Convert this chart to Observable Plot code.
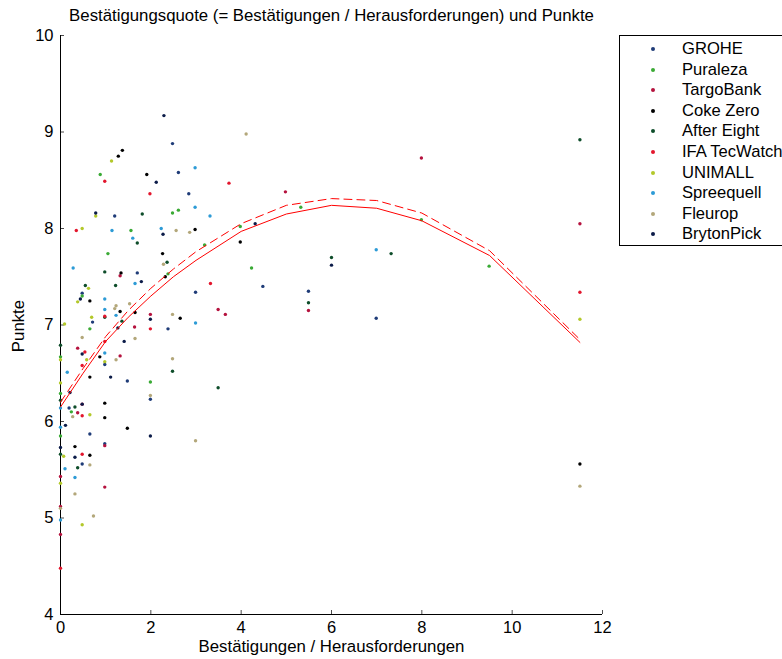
<!DOCTYPE html>
<html>
<head>
<meta charset="utf-8">
<script src="https://cdn.jsdelivr.net/npm/d3@7"></script>
<script src="https://cdn.jsdelivr.net/npm/@observablehq/plot@0.6"></script>
<style>
  html, body { margin: 0; padding: 0; background: #fff; overflow: hidden; }
  body { width: 782px; height: 659px; position: relative; font-family: "Liberation Sans", Arial, Helvetica, sans-serif; }
  #chart { position: absolute; left: 0; top: 0; }
  .title { position: absolute; top: 6px; left: 0; width: 663px; text-align: center; font-size: 16.8px; color: #000; white-space: nowrap; }
  .xlabel { position: absolute; top: 637px; left: 0; width: 663px; text-align: center; font-size: 16.8px; color: #000; white-space: nowrap; }
  .ylabel { position: absolute; left: 19px; top: 326px; font-size: 16.8px; color: #000; transform: translate(-50%, -50%) rotate(-90deg); white-space: nowrap; }
  .legend { position: absolute; left: 619px; top: 35px; width: 260px; height: 211px; border: 1px solid #000; box-sizing: border-box; background: #fff; }
  .legend .item { position: absolute; left: 0; height: 20px; font-size: 16.6px; line-height: 20px; white-space: nowrap; color: #000; }
  .legend .dot { position: absolute; left: 31px; top: 8px; width: 4px; height: 4px; border-radius: 50%; }
  .legend .lab { position: absolute; left: 62px; top: 0; }
</style>
</head>
<body>
<div id="chart"></div>
<div class="title">Bestätigungsquote (= Bestätigungen / Herausforderungen) und Punkte</div>
<div class="xlabel">Bestätigungen / Herausforderungen</div>
<div class="ylabel">Punkte</div>
<div class="legend" id="legend"></div>
<script>
// ---- Data ----
const seriesNames = ["GROHE", "Puraleza", "TargoBank", "Coke Zero", "After Eight", "IFA TecWatch", "UNIMALL", "Spreequell", "Fleurop", "BrytonPick"];
const seriesColors = ["#1f3c78", "#3aaa35", "#b5123e", "#000000", "#0e4d2a", "#e3162d", "#b3c82a", "#2d9bd6", "#b3a77a", "#0b1b48"];

const grohe = [[2.48,8.88],[2.61,8.58],[2.84,8.36],[1.20,8.13],[1.70,7.54],[2.99,7.34],[0.48,7.33],[0.71,7.03],[2.38,6.96],[0.98,6.59],[1.48,6.42],[1.99,6.23],[0.19,6.14],[0.65,5.87],[0.98,5.77],[0.48,5.56],[4.48,7.40],[5.49,7.35],[6.99,7.07]];
const puraleza = [[0.88,8.56],[2.48,8.16],[2.61,8.19],[1.56,7.98],[3.19,7.83],[1.05,7.74],[2.38,7.53],[0.48,7.30],[0.65,6.96],[1.99,6.41],[0,6.67],[0,6.29],[0.24,6.10],[0,5.85],[5.32,8.22],[3.98,8.02],[4.23,7.59],[7.99,8.09],[9.49,7.61]];
const targobank = [[1.32,7.51],[1.99,7.11],[1.64,6.98],[3.49,7.16],[3.65,7.11],[0.38,6.76],[1.32,6.68],[0.48,6.18],[0.38,6.09],[0.98,5.75],[0,5.43],[0.98,5.32],[0,5.12],[0,4.83],[4.98,8.38],[5.49,7.15],[7.99,8.73],[11.5,8.05]];
const cokeZero = [[1.37,8.81],[1.28,8.75],[1.91,8.56],[2.98,7.99],[2.26,7.74],[1.34,7.54],[2.32,7.50],[0.65,7.25],[1.32,7.14],[1.65,7.13],[0.87,6.67],[0.65,6.46],[0.98,6.19],[0.98,6.04],[1.48,5.93],[0.32,5.74],[0.65,5.65],[2.65,7.07],[3.98,7.86],[11.5,5.56]];
const afterEight = [[1.81,8.15],[1.70,7.85],[0.98,7.55],[2.36,7.65],[1.22,7.41],[0.55,7.41],[0.98,7.08],[1.36,7.04],[0,6.79],[2.48,6.52],[3.49,6.35],[0,6.22],[0.32,6.15],[0,5.66],[0.38,5.52],[6.0,7.70],[5.49,7.23],[7.32,7.74],[11.5,8.92]];
const ifaTecWatch = [[0.98,8.49],[1.98,8.36],[0.35,7.98],[3.73,8.47],[3.32,7.43],[0.98,7.09],[1.99,6.96],[0.98,6.83],[0.54,6.72],[0.48,6.58],[0.48,6.06],[0.48,5.66],[0,4.48],[11.5,7.34]];
const unimall = [[1.13,8.70],[0.78,8.13],[0.48,8.00],[0.62,7.38],[0.38,7.24],[0.69,7.08],[0.09,7.01],[0,6.64],[0.58,6.64],[0.98,6.62],[0,6.40],[0.65,6.07],[0.07,5.64],[0,5.36],[0.48,4.93],[11.5,7.06]];
const spreequell = [[2.98,8.63],[2.98,8.22],[3.31,8.13],[1.14,7.98],[2.23,8.00],[1.60,7.90],[0.28,7.59],[1.65,7.43],[0.98,7.27],[0.98,7.16],[1.23,7.10],[2.99,7.02],[0.98,6.71],[0.15,6.51],[0,6.14],[0,5.94],[0.10,5.51],[0.32,5.42],[0,4.98],[6.99,7.78]];
const fleurop = [[2.56,7.98],[2.86,7.96],[2.28,7.63],[1.23,7.20],[1.20,7.17],[1.53,7.22],[2.48,7.11],[0.48,6.87],[1.65,6.86],[1.23,6.64],[2.48,6.65],[1.99,6.27],[0.27,6.05],[2.99,5.80],[0.65,5.55],[0.32,5.25],[0,5.10],[0.73,5.02],[4.11,8.98],[11.5,5.33]];
const brytonPick = [[2.29,9.17],[2.12,8.48],[0.78,8.16],[2.27,7.94],[1.79,7.45],[0.44,7.27],[1.27,6.97],[1.99,7.06],[1.41,6.83],[0.48,6.70],[1.11,6.46],[0.21,6.30],[0.48,6.18],[0.11,5.96],[1.99,5.85],[0,5.73],[0.32,5.63],[4.31,8.05],[6.0,7.62]];

// Fitted curves
const fitX      = [0, 0.5, 1, 1.5, 2, 2.5, 3, 4, 5, 6, 7, 8, 9.5, 11.5];
const fitSolid  = [6.15, 6.50, 6.83, 7.08, 7.30, 7.50, 7.67, 7.97, 8.15, 8.24, 8.21, 8.08, 7.72, 6.82];
const fitDashed = [6.20, 6.55, 6.88, 7.15, 7.38, 7.58, 7.76, 8.05, 8.24, 8.31, 8.29, 8.16, 7.77, 6.85];

const xTicks = [0, 2, 4, 6, 8, 10, 12];
const yTicks = [4, 5, 6, 7, 8, 9, 10];

// ---- Build table ----
const seriesData = [grohe, puraleza, targobank, cokeZero, afterEight, ifaTecWatch, unimall, spreequell, fleurop, brytonPick];
const points = [];
seriesData.forEach((arr, i) => arr.forEach(([x, y]) => points.push({x, y, series: seriesNames[i]})));
const fit = fitX.map((x, i) => ({x, solid: fitSolid[i], dashed: fitDashed[i]}));

const chart = Plot.plot({
  width: 782,
  height: 659,
  marginLeft: 60,
  marginRight: 180,
  marginTop: 35,
  marginBottom: 45,
  style: {fontFamily: "Liberation Sans, Arial, sans-serif", fontSize: "16.5px", color: "#000", background: "#fff", overflow: "visible"},
  x: {domain: [0, 12]},
  y: {domain: [4, 10]},
  color: {domain: seriesNames, range: seriesColors},
  marks: [
    Plot.axisX({ticks: xTicks, tickSize: -4, tickPadding: 11, tickFormat: d => String(d), label: null, stroke: "#000", fill: "#000", strokeOpacity: 0.7, fontSize: 16.5}),
    Plot.axisY({ticks: yTicks, tickSize: -4, tickPadding: 11, tickFormat: d => String(d), label: null, stroke: "#000", fill: "#000", strokeOpacity: 0.7, fontSize: 16.5}),
    Plot.ruleX([0], {stroke: "#000", strokeWidth: 1}),
    Plot.ruleY([4], {stroke: "#000", strokeWidth: 1}),
    Plot.dot(points, {x: "x", y: "y", fill: "series", r: 1.7, stroke: "none"}),
    Plot.line(fit, {x: "x", y: "solid", stroke: "#ff0000", strokeWidth: 1}),
    Plot.line(fit, {x: "x", y: "dashed", stroke: "#ff0000", strokeWidth: 1, strokeDasharray: "8,5"})
  ]
});
document.getElementById("chart").appendChild(chart);

// Legend
const legend = document.getElementById("legend");
seriesNames.forEach((name, i) => {
  const item = document.createElement("div");
  item.className = "item";
  item.style.top = (3 + i * 20.6) + "px";
  const dot = document.createElement("span");
  dot.className = "dot";
  dot.style.background = seriesColors[i];
  const lab = document.createElement("span");
  lab.className = "lab";
  lab.textContent = name;
  item.appendChild(dot);
  item.appendChild(lab);
  legend.appendChild(item);
});
</script>
</body>
</html>
